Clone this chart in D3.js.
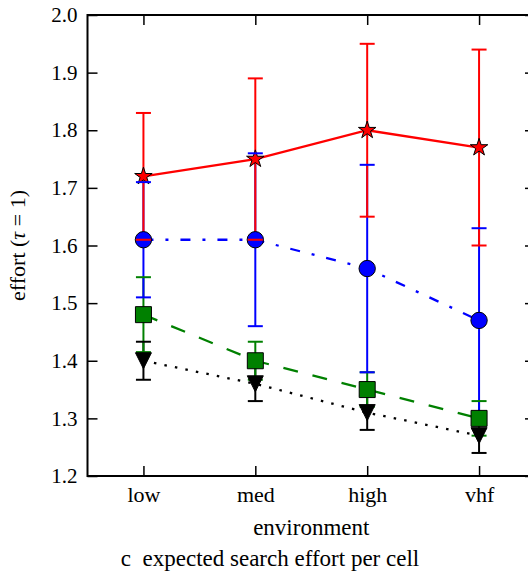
<!DOCTYPE html>
<html>
<head>
<meta charset="utf-8">
<script src="https://cdn.jsdelivr.net/npm/d3@7"></script>
<style>
  body { margin: 0; background: #fff; }
  svg text { font-family: "Liberation Serif", "DejaVu Serif", serif; }
</style>
</head>
<body>
<div id="chart"></div>
<script>
// expected search effort per cell, four environments

var width = 528;
var height = 579;

var categories = ["low", "med", "high", "vhf"];
var yTicks = [1.2, 1.3, 1.4, 1.5, 1.6, 1.7, 1.8, 1.9, 2.0];

// series values (mean, +/- error)
var blackMean = [1.40, 1.36, 1.31, 1.27];
var blackErr  = [0.033, 0.03, 0.03, 0.03];
var greenMean = [1.48, 1.40, 1.35, 1.30];
var greenErr  = [0.065, 0.033, 0.03, 0.03];
var blueMean  = [1.61, 1.61, 1.56, 1.47];
var blueErr   = [0.10, 0.15, 0.18, 0.16];
var redMean   = [1.72, 1.75, 1.80, 1.77];
var redErr    = [0.11, 0.14, 0.15, 0.17];

// custom down-pointing triangle for d3.symbol
var triangleDown = {
  draw: function(context, size) {
    var r = Math.sqrt(size) / 2;
    context.moveTo(-r, -r);
    context.lineTo(r, -r);
    context.lineTo(0, r);
    context.closePath();
  }
};

// lower series put their markers above the caps
var series = [
  {mean: blackMean, err: blackErr, color: "#000000", dash: "2.5,8.2", symbol: triangleDown, size: 256, late: true},
  {mean: greenMean, err: greenErr, color: "#008000", dash: "15,15", symbol: d3.symbolSquare, size: 256, late: true},
  {mean: blueMean,  err: blueErr,  color: "#0000ff", dash: "10,12,3,12", symbol: d3.symbolCircle, size: 210, late: false},
  {mean: redMean,   err: redErr,   color: "#ff0000", dash: null, symbol: d3.symbolStar, size: 95, late: false}
];

var plotLeft = 87.5, plotRight = 535, plotTop = 15, plotBottom = 476;

var x = d3.scalePoint().domain(categories).range([plotLeft, plotRight]).padding(0.5);
var y = d3.scaleLinear().domain([1.2, 2.0]).range([plotBottom, plotTop]);

var svg = d3.select("#chart").append("svg")
            .attr("width", width)
            .attr("height", height);

// error bar lines (under the data lines)
series.forEach(function(s) {
  svg.append("g").selectAll("line")
     .data(categories)
     .enter().append("line")
     .attr("x1", function(d) { return x(d); })
     .attr("x2", function(d) { return x(d); })
     .attr("y1", function(d, i) { return y(s.mean[i] - s.err[i]); })
     .attr("y2", function(d, i) { return y(s.mean[i] + s.err[i]); })
     .attr("stroke", s.color)
     .attr("stroke-width", 2);
});

// data lines
series.forEach(function(s) {
  var line = d3.line()
               .x(function(d) { return x(d); })
               .y(function(d, i) { return y(s.mean[i]); });
  svg.append("path")
     .datum(categories)
     .attr("d", line)
     .attr("fill", "none")
     .attr("stroke", s.color)
     .attr("stroke-width", 2.3)
     .attr("stroke-dasharray", s.dash);
});

function drawMarkers(s) {
  svg.append("g").selectAll("path")
     .data(categories)
     .enter().append("path")
     .attr("transform", function(d, i) { return "translate(" + x(d) + "," + y(s.mean[i]) + ")"; })
     .attr("d", d3.symbol().type(s.symbol).size(s.size))
     .attr("fill", s.color)
     .attr("stroke", "#000")
     .attr("stroke-width", 1);
}

series.filter(function(s) { return !s.late; }).forEach(drawMarkers);

// caps
series.forEach(function(s) {
  var caps = [];
  categories.forEach(function(c, i) {
    caps.push({c: c, v: s.mean[i] - s.err[i]});
    caps.push({c: c, v: s.mean[i] + s.err[i]});
  });
  svg.append("g").selectAll("line")
     .data(caps)
     .enter().append("line")
     .attr("x1", function(d) { return x(d.c) - 7.5; })
     .attr("x2", function(d) { return x(d.c) + 7.5; })
     .attr("y1", function(d) { return y(d.v); })
     .attr("y2", function(d) { return y(d.v); })
     .attr("stroke", s.color)
     .attr("stroke-width", 2);
});

series.filter(function(s) { return s.late; }).forEach(drawMarkers);

// axes, ticks point inward
var fmt = d3.format(".1f");
var yLeft = svg.append("g")
   .attr("transform", "translate(" + plotLeft + ",0)")
   .call(d3.axisLeft(y).tickValues(yTicks).tickFormat(fmt).tickSizeInner(-10).tickSizeOuter(0).tickPadding(10));
var yRight = svg.append("g")
   .attr("transform", "translate(" + plotRight + ",0)")
   .call(d3.axisRight(y).tickValues(yTicks).tickFormat("").tickSizeInner(-10).tickSizeOuter(0));
var xBottom = svg.append("g")
   .attr("transform", "translate(0," + plotBottom + ")")
   .call(d3.axisBottom(x).tickSizeInner(-10).tickSizeOuter(0).tickPadding(10));
var xTop = svg.append("g")
   .attr("transform", "translate(0," + plotTop + ")")
   .call(d3.axisTop(x).tickFormat("").tickSizeInner(-10).tickSizeOuter(0));

[yLeft, yRight, xBottom, xTop].forEach(function(g) {
  g.select(".domain").remove();
  g.selectAll(".tick line").attr("stroke", "#000").attr("stroke-width", 1.5);
  g.selectAll(".tick text")
   .attr("fill", "#000")
   .style("font-family", "'Liberation Serif', serif")
   .style("font-size", "21px");
});
xBottom.selectAll(".tick text").style("font-size", "22px");

// frame
svg.append("rect")
   .attr("x", plotLeft)
   .attr("y", plotTop)
   .attr("width", plotRight - plotLeft)
   .attr("height", plotBottom - plotTop)
   .attr("fill", "none")
   .attr("stroke", "#000")
   .attr("stroke-width", 2);

// labels
svg.append("text")
   .attr("x", (plotLeft + plotRight) / 2)
   .attr("y", 535)
   .attr("text-anchor", "middle")
   .style("font-size", "23px")
   .text("environment");

svg.append("text")
   .attr("x", 270)
   .attr("y", 566)
   .attr("text-anchor", "middle")
   .style("font-size", "23px")
   .text("c\u00a0 expected search effort per cell");

var yLabel = svg.append("text")
   .attr("transform", "translate(25," + ((plotTop + plotBottom) / 2) + ") rotate(-90)")
   .attr("text-anchor", "middle")
   .style("font-size", "22px");
yLabel.append("tspan").text("effort (");
yLabel.append("tspan").style("font-style", "italic").text("τ");
yLabel.append("tspan").text(" = 1)");
</script>
</body>
</html>
